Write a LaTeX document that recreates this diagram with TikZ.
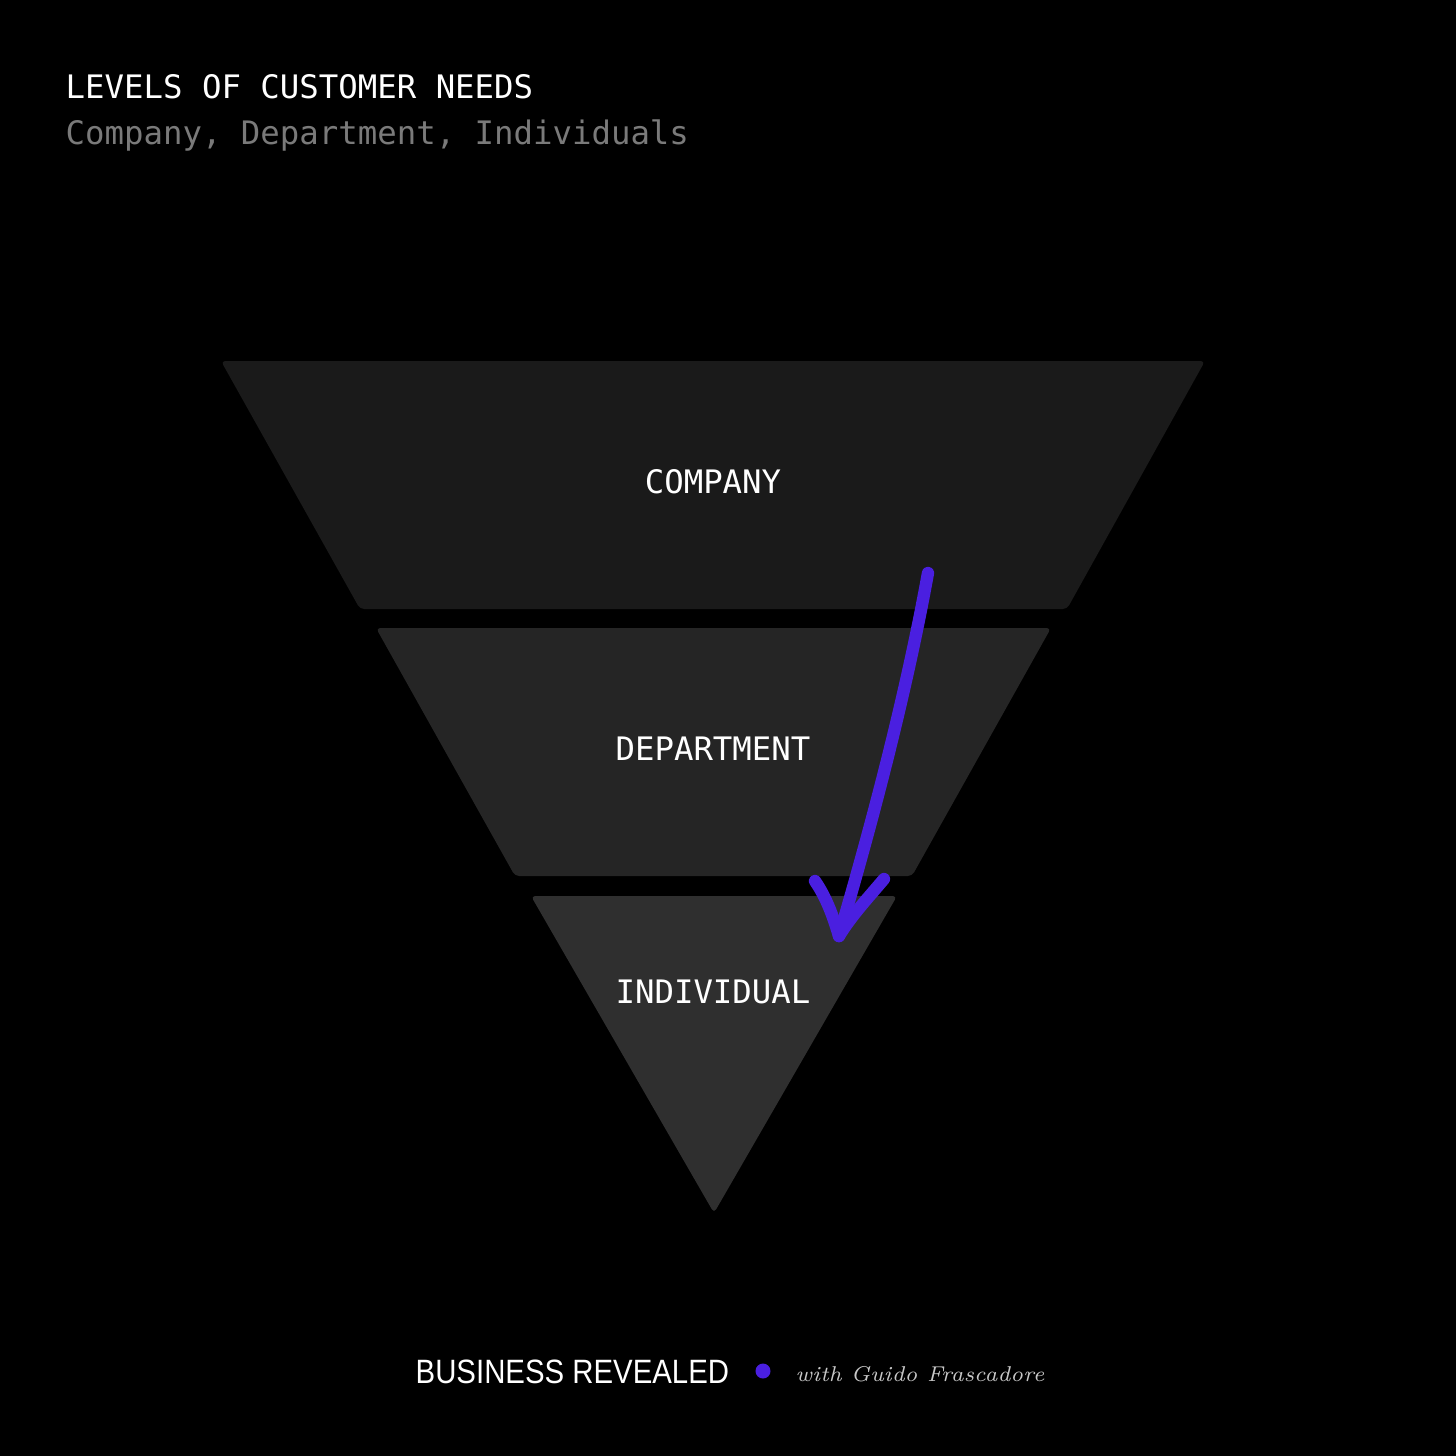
\documentclass[tikz,border=0pt]{standalone}
\usepackage{fontspec}
\usepackage{xcolor}
\usepackage{tikz}
\usetikzlibrary{positioning}
\newfontfamily\monofnt{DejaVu Sans Mono}
\newfontfamily\brandfnt[FakeStretch=0.87]{Liberation Sans}
\definecolor{LevelOne}{HTML}{1A1A1A}
\definecolor{LevelTwo}{HTML}{252525}
\definecolor{LevelThree}{HTML}{2F2F2F}
\definecolor{PenViolet}{HTML}{4A1FE0}
\definecolor{SubGray}{HTML}{7A7A7A}
\definecolor{SignGray}{HTML}{C8C8C8}

\begin{document}
\begin{tikzpicture}[x=.01cm,y=-.01cm,
  lvl/.style={rounded corners=1.2pt},
  lbl/.style={text=white,font=\monofnt\fontsize{9.2}{11}\selectfont,inner sep=0pt},
  pen/.style={PenViolet,line width=3.5pt,line cap=round,line join=round}]
\fill[black] (0,0) rectangle (1456,1456);
% title
\node[lbl,anchor=base west] (ttl) at (65,98) {LEVELS OF CUSTOMER NEEDS};
\node[lbl,anchor=base west,text=SubGray] (sub) at (65,144) {Company, Department, Individuals};
% funnel
\fill[lvl,LevelOne] (221,361)--(1205,361)--(1067,609)--(360,609)--cycle;
\fill[lvl,LevelTwo] (376,628)--(1051,628)--(912,876)--(515,876)--cycle;
\fill[lvl,LevelThree] (531,896)--(897,896)--(714,1213)--cycle;
\node[lbl] (company) at (713,482) {COMPANY};
\node[lbl] (department) at (713,749) {DEPARTMENT};
\node[lbl] (individual) at (713,992) {INDIVIDUAL};
% hand drawn arrow
\coordinate (start) at (928,573);
\coordinate (tip) at (839,936);
\coordinate (barbL) at (815,881);
\coordinate (barbR) at (884,879);
\draw[pen] (start) .. controls (905,700) and (870,830) .. (tip);
\draw[pen] (barbL) .. controls (828,900) and (834,920) .. (tip);
\draw[pen] (barbR) .. controls (868,898) and (852,915) .. (tip);
% footer
\node[anchor=base west,text=white,font=\brandfnt\fontsize{9.6}{11}\selectfont,inner sep=0pt] (brand) at (415,1383) {BUSINESS REVEALED};
\fill[PenViolet] (763,1371) circle (7.5) coordinate (dot);
\node[anchor=base west,text=SignGray,font=\itshape\fontsize{6.1}{8}\selectfont,inner sep=0pt] (sign) at (795,1381) {with Guido Frascadore};
\end{tikzpicture}
\end{document}
